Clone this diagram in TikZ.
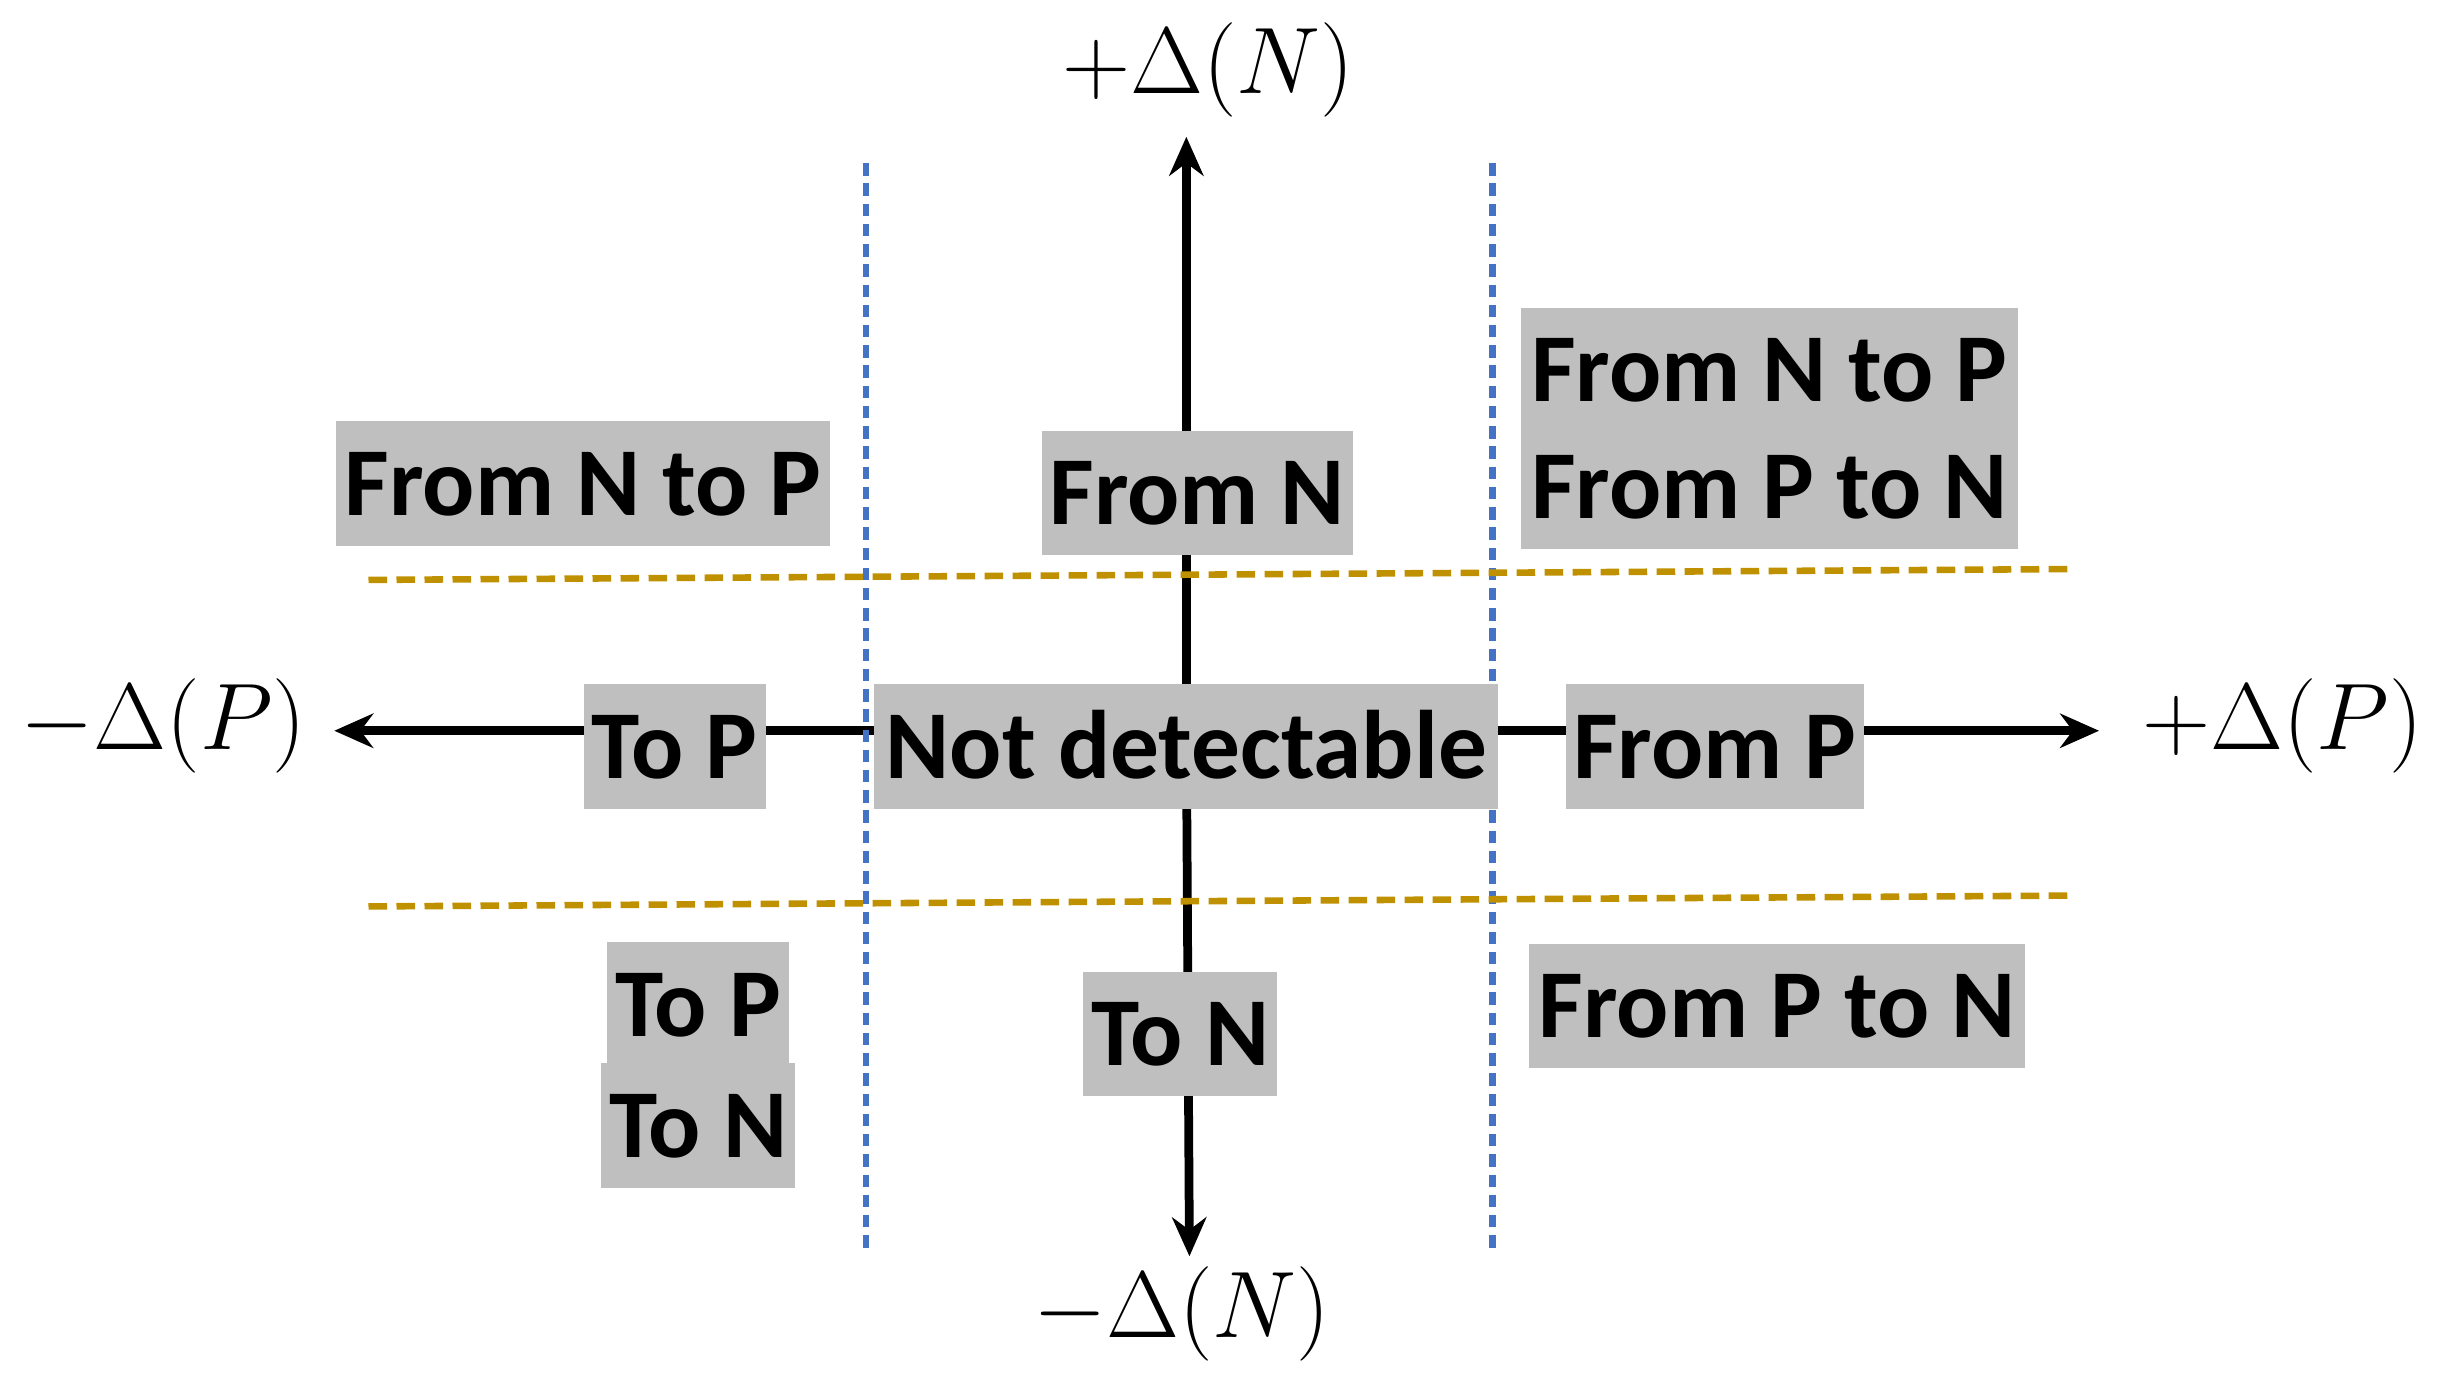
\documentclass[tikz,border=0pt]{standalone}
\usepackage{fontspec}
\setsansfont{Carlito}
\usetikzlibrary{arrows.meta}
\definecolor{boxgray}{RGB}{191,191,191}
\definecolor{dashblue}{RGB}{68,114,196}
\definecolor{dashgold}{RGB}{191,144,0}
\tikzset{
    region/.style={
        rectangle,
        fill=boxgray,
        inner xsep=0.05cm,
        minimum height=0.8cm,
        text height=0.43cm,
        text depth=0.02cm,
        font=\fontsize{17.8}{20}\selectfont\sffamily\bfseries
    },
    axis/.style={
        draw=black,
        line width=1.6pt,
        -{Stealth[length=0.25cm,width=0.22cm]}
    },
    divider/.style={
        line width=1.2pt,
        dash pattern=on 0.08cm off 0.05cm
    },
    axlabel/.style={
        font=\fontsize{18}{20}\selectfont
    }
}
\begin{document}
\begin{tikzpicture}[x=0.01cm,y=-0.01cm]
\useasboundingbox (0,0) rectangle (1568,886);

% axes
\coordinate (o) at (763,470);
\coordinate (top) at (763,88);
\coordinate (bot) at (765,808);
\coordinate (lft) at (215,470);
\coordinate (rgt) at (1350,470);
\draw[axis] (o) -- (top);
\draw[axis] (o) -- (bot);
\draw[axis] (o) -- (lft);
\draw[axis] (o) -- (rgt);

% dividers
\coordinate (b1a) at (557,105); \coordinate (b1b) at (557,805);
\coordinate (b2a) at (960,105); \coordinate (b2b) at (960,805);
\draw[divider, dashblue] (b1a) -- (b1b);
\draw[divider, dashblue] (b2a) -- (b2b);
\coordinate (g1a) at (237,373); \coordinate (g1b) at (1333,366);
\coordinate (g2a) at (237,583); \coordinate (g2b) at (1333,576);
\draw[divider, dashgold, dash pattern=on 0.12cm off 0.06cm] (g1a) -- (g1b);
\draw[divider, dashgold, dash pattern=on 0.12cm off 0.06cm] (g2a) -- (g2b);

% axis labels
\node[axlabel] (dnp) at (777,45) {$+\Delta(N)$};
\node[axlabel] (dnm) at (760,845) {$-\Delta(N)$};
\node[axlabel] (dpm) at (105,467) {$-\Delta(P)$};
\node[axlabel] (dpp) at (1468,467) {$+\Delta(P)$};

% regions
\node[region, minimum width=3.17cm] (ul) at (375,311) {From N to P};
\node[region, minimum width=1.96cm] (um) at (770,317) {From N};
\node[region, minimum width=3.19cm] (ur1) at (1138,238) {From N to P};
\node[region, minimum width=3.19cm] (ur2) at (1138,313) {From P to N};
\node[region, minimum width=1.10cm] (ml) at (434,480) {To P};
\node[region, minimum width=4.01cm] (mm) at (763,480) {Not detectable};
\node[region, minimum width=1.90cm] (mr) at (1103,480) {From P};
\node[region, minimum width=1.08cm] (ll1) at (449,646) {To P};
\node[region, minimum width=1.18cm] (ll2) at (449,724) {To N};
\node[region, minimum width=1.18cm] (lm) at (759,665) {To N};
\node[region, minimum width=3.19cm] (lr) at (1143,647) {From P to N};
\end{tikzpicture}
\end{document}
